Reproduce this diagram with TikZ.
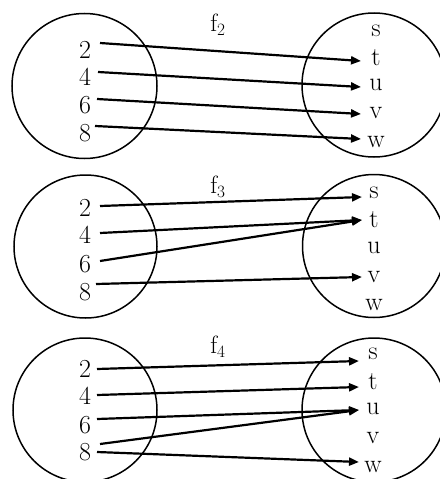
\documentclass[tikz,border=0pt]{standalone}
\usetikzlibrary{arrows.meta}
\begin{document}
\begin{tikzpicture}[x=1pt,y=-1pt,
  setc/.style={draw,line width=1.5pt},
  lbl/.style={inner sep=0pt,font=\fontsize{26}{31}\selectfont},
  ttl/.style={inner sep=0pt,font=\fontsize{25}{30}\selectfont},
  mapto/.style={line width=2.2pt,-{Triangle[length=10pt,width=8pt]}}]
\useasboundingbox (0,0) rectangle (439,479);
% ---------- panel 1 ----------
\draw[setc] (84.5,86) circle (72.5);
\draw[setc] (374,85) circle (72);
\node[ttl] (f2) at (218,25) {f$_2$};
\node[lbl] (a2) at (85,50) {2};
\node[lbl] (a4) at (85,77) {4};
\node[lbl] (a6) at (85,105) {6};
\node[lbl] (a8) at (85,133) {8};
\node[lbl] (bs) at (376,31) {s};
\node[lbl] (bt) at (376,58) {t};
\node[lbl] (bu) at (376,85) {u};
\node[lbl] (bv) at (376,113) {v};
\node[lbl] (bw) at (376,142) {w};
\coordinate (p2) at (100,43);  \coordinate (pt) at (361,61);
\coordinate (p4) at (98,72);   \coordinate (pu) at (361,87);
\coordinate (p6) at (97,99);   \coordinate (pv) at (361,114);
\coordinate (p8) at (95,126);  \coordinate (pw) at (361,139);
\draw[mapto] (p2) -- (pt);
\draw[mapto] (p4) -- (pu);
\draw[mapto] (p6) -- (pv);
\draw[mapto] (p8) -- (pw);
% ---------- panel 2 ----------
\draw[setc] (85.5,246.5) circle (71.5);
\draw[setc] (374,246) circle (71.5);
\node[ttl] (f3) at (218,187) {f$_3$};
\node[lbl] (c2) at (85,208) {2};
\node[lbl] (c4) at (85,235) {4};
\node[lbl] (c6) at (85,264) {6};
\node[lbl] (c8) at (85,292) {8};
\node[lbl] (ds) at (374,193) {s};
\node[lbl] (dt) at (374,220) {t};
\node[lbl] (du) at (374,248) {u};
\node[lbl] (dv) at (374,277) {v};
\node[lbl] (dw) at (374,305) {w};
\coordinate (q2) at (100,206);  \coordinate (qs) at (362,197);
\coordinate (q4) at (100,233);  \coordinate (qt) at (362,220);
\coordinate (q6) at (100,261);
\coordinate (q8) at (96,284);   \coordinate (qv) at (362,277);
\draw[mapto] (q2) -- (qs);
\draw[mapto] (q4) -- (qt);
\draw[mapto] (q6) -- (qt);
\draw[mapto] (q8) -- (qv);
% ---------- panel 3 ----------
\draw[setc] (85,410) circle (72);
\draw[setc] (374,410) circle (72);
\node[ttl] (f4) at (218,347) {f$_4$};
\node[lbl] (e2) at (85,369) {2};
\node[lbl] (e4) at (85,396) {4};
\node[lbl] (e6) at (85,425) {6};
\node[lbl] (e8) at (85,452) {8};
\node[lbl] (gs) at (373,354) {s};
\node[lbl] (gt) at (373,382) {t};
\node[lbl] (gu) at (373,409) {u};
\node[lbl] (gv) at (373,438) {v};
\node[lbl] (gw) at (373,467) {w};
\coordinate (r2) at (97,369);   \coordinate (rs) at (359,361);
\coordinate (r4) at (97,395);   \coordinate (rt) at (359,387);
\coordinate (r6) at (97,419);   \coordinate (ru) at (359,410);
\coordinate (r8a) at (100,444);
\coordinate (r8b) at (97,452);  \coordinate (rw) at (359,462);
\draw[mapto] (r2) -- (rs);
\draw[mapto] (r4) -- (rt);
\draw[mapto] (r6) -- (ru);
\draw[mapto] (r8a) -- (ru);
\draw[mapto] (r8b) -- (rw);
\end{tikzpicture}
\end{document}
